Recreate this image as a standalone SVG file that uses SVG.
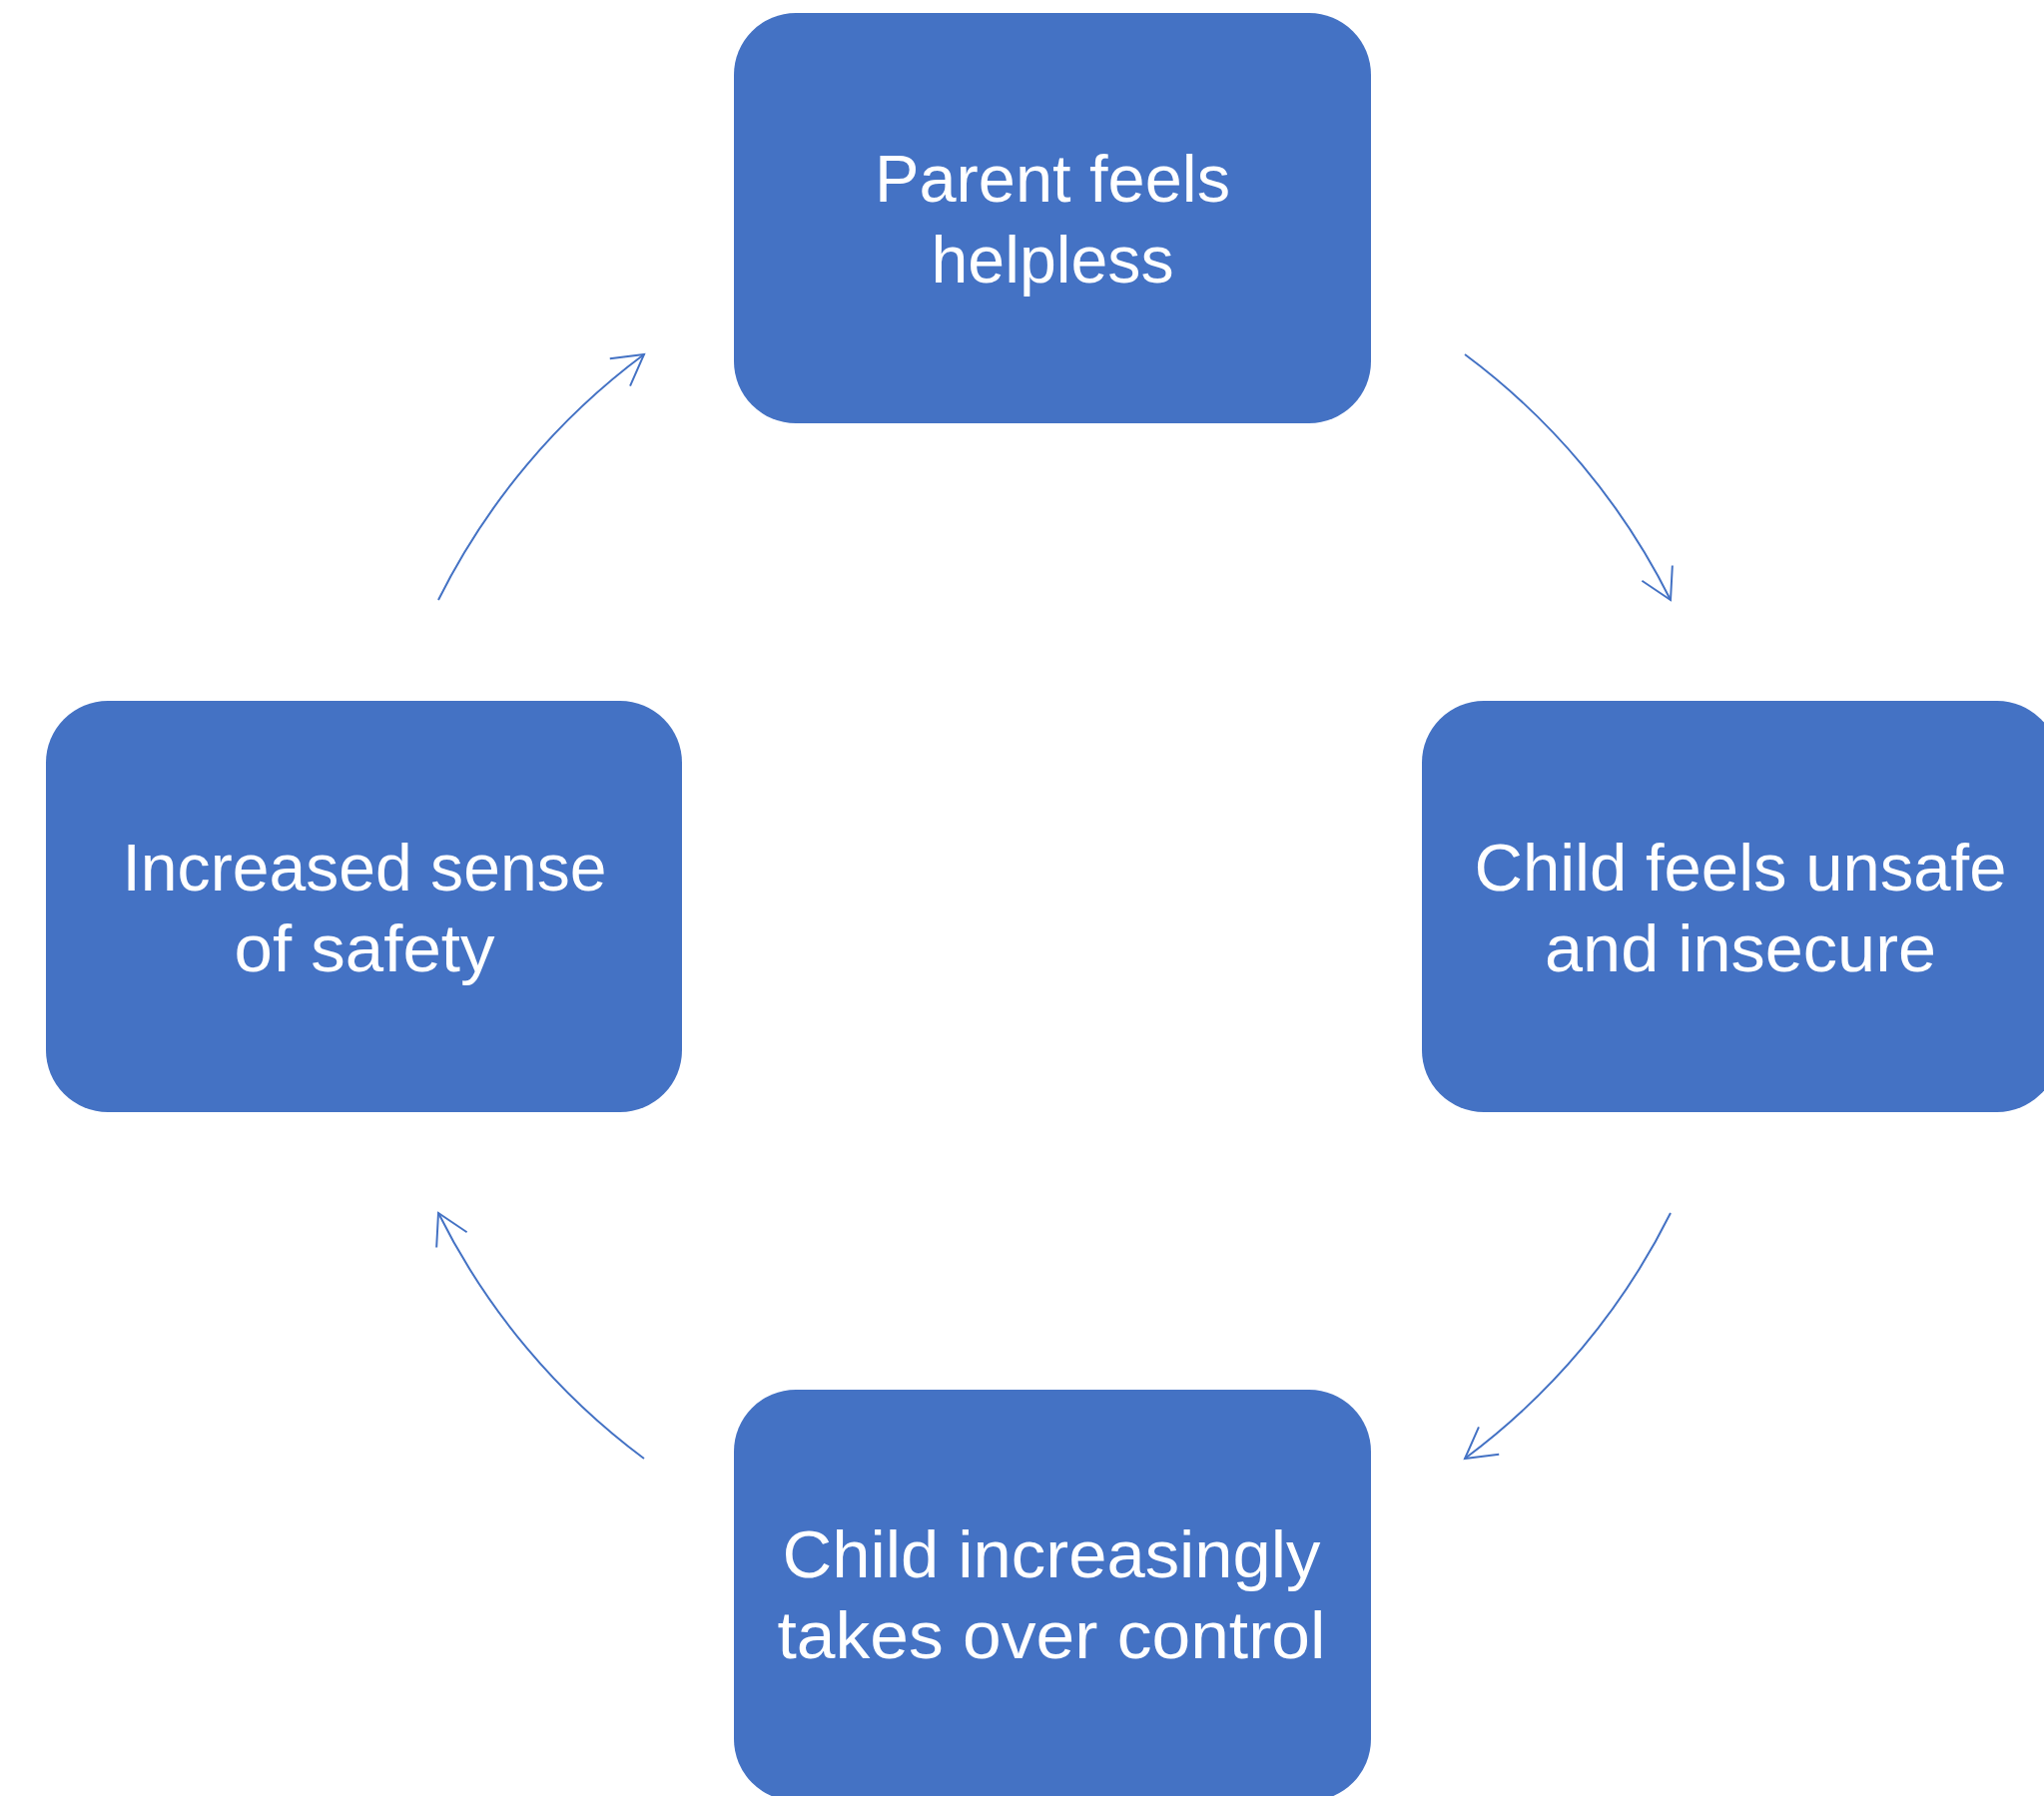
<svg xmlns="http://www.w3.org/2000/svg" width="2047" height="1799" viewBox="0 0 2047 1799">
<style>
.box{fill:#4472C4}
.lbl{fill:#ffffff;font-family:"Liberation Sans","Open Sans",sans-serif;font-size:66px;text-anchor:middle}
.arc{fill:none;stroke:#4472C4;stroke-width:2}
</style>
<defs>
<marker id="ah" markerUnits="userSpaceOnUse" markerWidth="60" markerHeight="60" viewBox="-40 -30 60 60" refX="0" refY="0" orient="auto">
<path d="M-30,-17 L0,0 L-30,17" fill="none" stroke="#4472C4" stroke-width="2"/>
</marker>
</defs>
<rect width="2047" height="1799" fill="#ffffff"/>
<g id="connectors">
<path class="arc" d="M1467,355 A689,689 0 0 1 1673,601" marker-end="url(#ah)"/>
<path class="arc" d="M1673,1215 A689,689 0 0 1 1467,1461" marker-end="url(#ah)"/>
<path class="arc" d="M645,1461 A689,689 0 0 1 439,1215" marker-end="url(#ah)"/>
<path class="arc" d="M439,601 A689,689 0 0 1 645,355" marker-end="url(#ah)"/>
</g>
<g id="node-parent">
<rect class="box" x="735" y="13" width="638" height="411" rx="62" ry="62"/>
<text class="lbl" x="1054" y="202" textLength="356" lengthAdjust="spacingAndGlyphs">Parent feels</text>
<text class="lbl" x="1054" y="283" textLength="243" lengthAdjust="spacingAndGlyphs">helpless</text>
</g>
<g id="node-unsafe">
<rect class="box" x="1424" y="702" width="638" height="412" rx="62" ry="62"/>
<text class="lbl" x="1743" y="892" textLength="533" lengthAdjust="spacingAndGlyphs">Child feels unsafe</text>
<text class="lbl" x="1743" y="973" textLength="392" lengthAdjust="spacingAndGlyphs">and insecure</text>
</g>
<g id="node-control">
<rect class="box" x="735" y="1392" width="638" height="412" rx="62" ry="62"/>
<text class="lbl" x="1053" y="1580" textLength="539" lengthAdjust="spacingAndGlyphs">Child increasingly</text>
<text class="lbl" x="1053" y="1661" textLength="549" lengthAdjust="spacingAndGlyphs">takes over control</text>
</g>
<g id="node-safety">
<rect class="box" x="46" y="702" width="637" height="412" rx="62" ry="62"/>
<text class="lbl" x="365" y="892" textLength="485" lengthAdjust="spacingAndGlyphs">Increased sense</text>
<text class="lbl" x="365" y="973" textLength="261" lengthAdjust="spacingAndGlyphs">of safety</text>
</g>
</svg>
